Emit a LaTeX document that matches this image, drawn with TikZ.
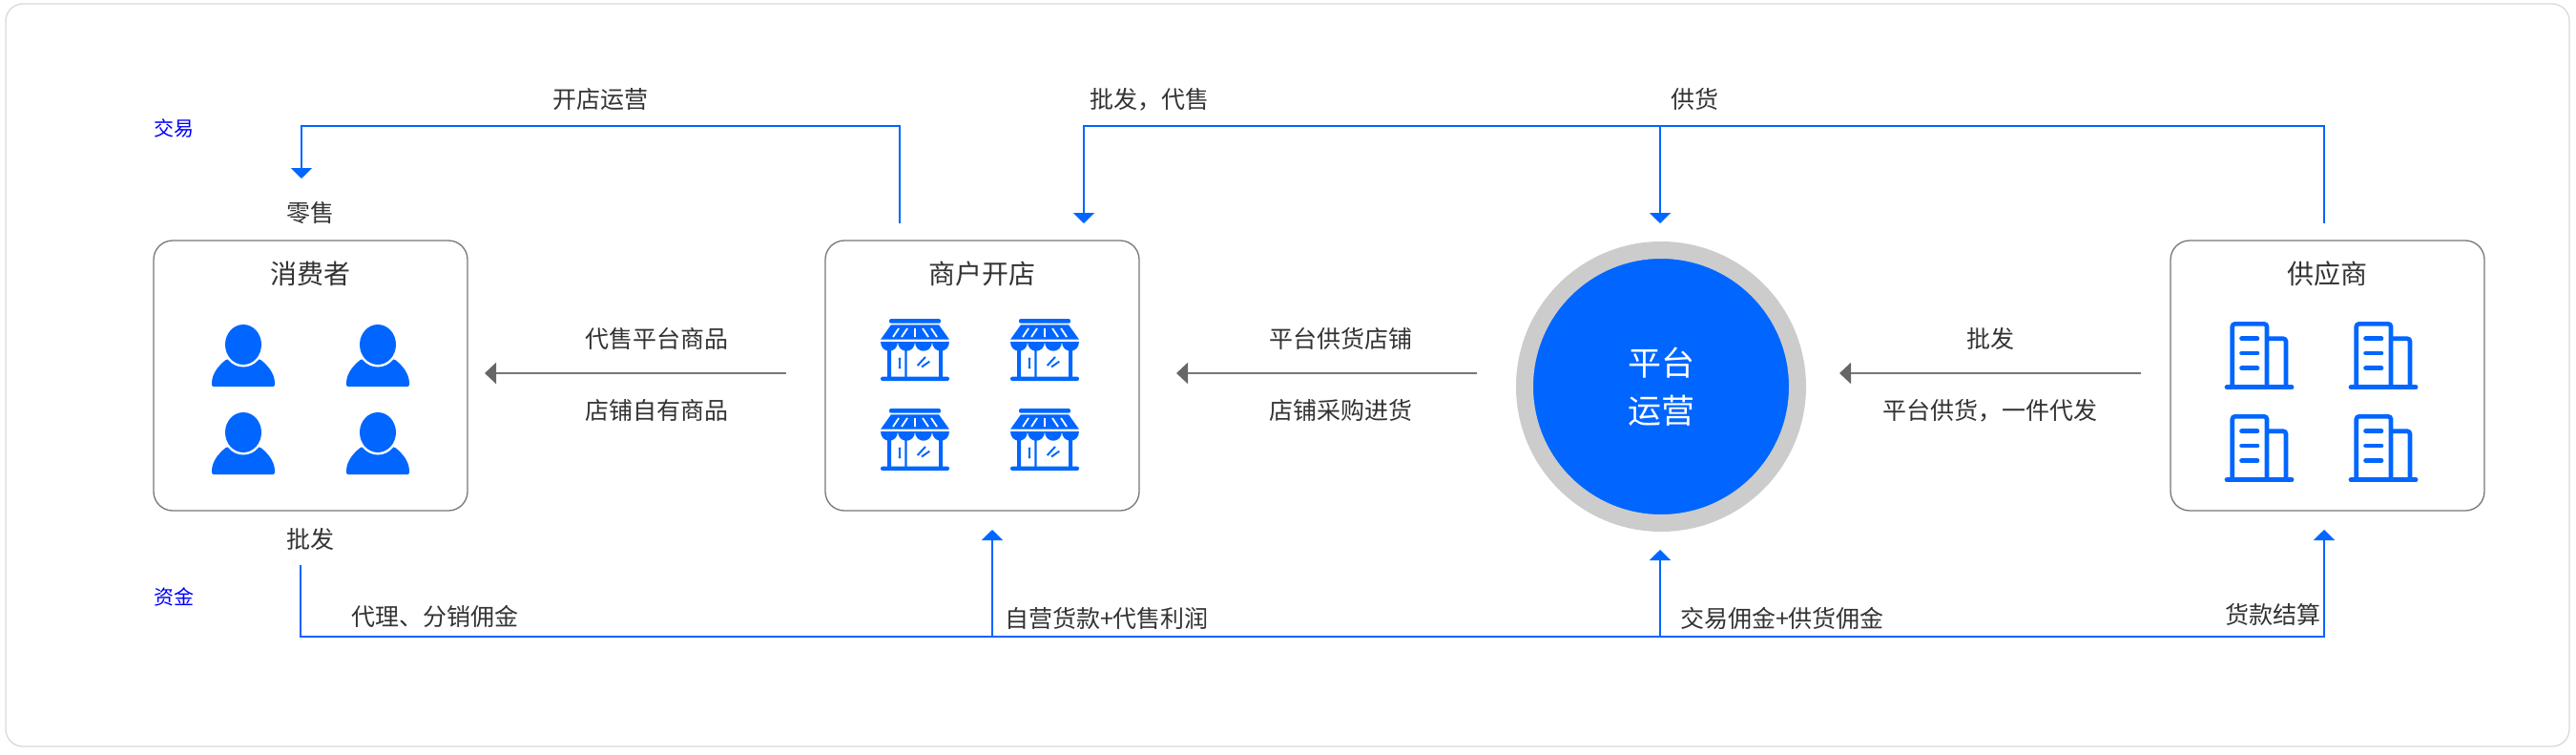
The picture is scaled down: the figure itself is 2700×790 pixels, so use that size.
\documentclass[tikz,border=0pt]{standalone}
\usepackage{fontspec}
\setmainfont{Noto Sans CJK SC}
\usetikzlibrary{positioning,arrows.meta}
\definecolor{flowblue}{HTML}{0066FF}
\definecolor{textgray}{HTML}{333333}
\definecolor{linegray}{HTML}{777777}
\definecolor{arrowgray}{HTML}{666666}

\begin{document}
\begin{tikzpicture}[
    x=1pt, y=-1pt,
    boxnode/.style={rectangle, draw=linegray, fill=white, line width=1.3pt, rounded corners=20pt, minimum width=329pt, minimum height=283pt, outer sep=0pt},
    platformnode/.style={circle, draw=black!20, fill=flowblue, line width=18pt, minimum size=286pt, outer sep=0pt, text=white, align=center, font=\fontsize{35}{50}\selectfont},
    titlenode/.style={text=textgray, inner sep=0pt, font=\fontsize{28}{34}\selectfont},
    textnode/.style={text=textgray, inner sep=0pt, font=\fontsize{25}{30}\selectfont},
    sidenode/.style={text=blue, inner sep=0pt, font=\fontsize{21}{26}\selectfont},
    flowline/.style={draw=flowblue, line width=2.2pt},
    flowarrow/.style={flowline, -{Triangle[length=11pt,width=22pt]}},
    grayarrow/.style={draw=linegray, line width=2pt, -{Triangle[length=12pt,width=22pt,color=arrowgray]}},
    personicon/.pic={
      \fill[flowblue, rounded corners=2pt] (-33,44) -- (-33,40) .. controls (-32,30) and (-26,22) .. (-17,15) -- (17,15) .. controls (26,22) and (32,30) .. (33,40) -- (33,44) -- cycle;
      \fill[white] (0,0) ellipse [x radius=21.5, y radius=23.5];
      \fill[flowblue] (0,0) ellipse [x radius=19, y radius=21];
    },
    shopicon/.pic={
      \fill[flowblue, rounded corners=2pt] (-27,0) rectangle (27,4.7);
      \fill[flowblue] (-25,6.3) -- (25,6.3) -- (36,21.7) -- (-36,21.7) -- cycle;
      \draw[white, line width=1.8pt] (-23,19) -- (-17,10) (-14,19) -- (-8,10) (0,19) -- (0,10) (8,10) -- (14,19) (17,10) -- (23,19);
      \foreach \s in {-36,-18,0,18}
        \fill[flowblue] (\s,24) .. controls (\s,37) and ({\s+18},37) .. ({\s+18},24) -- cycle;
      \fill[flowblue] (-29,28) rectangle (-25,62) (25,28) rectangle (29,62) (-10.7,32) rectangle (-8.3,62);
      \fill[flowblue, rounded corners=2pt] (-36,60.7) rectangle (36,65);
      \draw[flowblue, line width=1.5pt] (-16,42) -- (-16,51);
      \fill[flowblue] (-16,42) circle [radius=1.6] (-16,51) circle [radius=1.6];
      \draw[flowblue, line width=2pt] (2.7,49) -- (11,40) (7,50.5) -- (15.3,44.7);
    },
    towericon/.pic={
      \draw[flowblue, line width=4.6pt, rounded corners=3pt] (-28.3,68) -- (-28.3,2.3) -- (8,2.3) -- (8,68);
      \draw[flowblue, line width=4.6pt, rounded corners=3pt] (8,17.7) -- (28,17.7) -- (28,68);
      \draw[flowblue, line width=4.8pt, line cap=round] (-34,68.8) -- (34,68.8);
      \draw[flowblue, line width=4.6pt, line cap=round] (-18.5,17.7) -- (-2,17.7) (-18.5,33) -- (-2,33) (-18.5,48.7) -- (-2,48.7);
    }
   ]
   \useasboundingbox (0,0) rectangle (2700,790);
   \draw[black!15, line width=1.3pt, rounded corners=18pt] (6,4) rectangle (2693,782);

   \node[boxnode]      (consumer)    at (325.5,393.5)                  {};
   \node[boxnode]      (merchant)    [right=375pt of consumer]         {};
   \node[platformnode] (platform)    [right=404pt of merchant, yshift=-11.5pt] {平台\\运营};
   \node[boxnode]      (supplier)    [right=391pt of platform, yshift=11.5pt]  {};

   \node[titlenode] (consumertitle) [below=35pt of consumer.north, anchor=center] {消费者};
   \node[titlenode] (merchanttitle) [below=35pt of merchant.north, anchor=center] {商户开店};
   \node[titlenode] (suppliertitle) [below=35pt of supplier.north, anchor=center] {供应商};

   \foreach \ix in {255,396} \foreach \iy in {361,453} \pic at (\ix,\iy) {personicon};
   \foreach \ix in {959,1095} \foreach \iy in {334,428} \pic at (\ix,\iy) {shopicon};
   \foreach \ix in {2368,2498} \foreach \iy in {337,434} \pic at (\ix,\iy) {towericon};

   \node[sidenode] (tradeside) at (182,134.5) {交易};
   \node[sidenode] (fundside)  at (182,625)   {资金};

   \node[textnode] (openlabel)    at (629,104)  {开店运营};
   \node[textnode] (retaillabel)  at (325,223)  {零售};
   \node[textnode] (salelabel)    at (1205,104) {批发，代售};
   \node[textnode] (supplylabel)  at (1776,104) {供货};
   \node[textnode] (agentlabel)   at (688,355)  {代售平台商品};
   \node[textnode] (ownlabel)     at (688,430)  {店铺自有商品};
   \node[textnode] (shoplabel)    at (1405,355) {平台供货店铺};
   \node[textnode] (buylabel)     at (1405,430) {店铺采购进货};
   \node[textnode] (bulklabel)    at (2086,355) {批发};
   \node[textnode] (droplabel)    at (2086,430) {平台供货，一件代发};
   \node[textnode] (bulkbottom)   at (325,565)  {批发};
   \node[textnode] (commlabel)    at (456,646)  {代理、分销佣金};
   \node[textnode] (profitlabel)  at (1160,648) {自营货款+代售利润};
   \node[textnode] (feelabel)     at (1868,648) {交易佣金+供货佣金};
   \node[textnode] (paylabel)     at (2382,644) {货款结算};

   \coordinate (openstart)  at (943,234);
   \coordinate (openturn)   at (943,132);
   \coordinate (retailtip)  at (316,187);
   \coordinate (supplystart) at (2436,234);
   \coordinate (supplyturn) at (2436,132);
   \coordinate (saletip)    at (1136,234);
   \coordinate (platformtop) at (1740,132);
   \coordinate (platformtip) at (1740,234);
   \coordinate (fundstart)  at (315,592);
   \coordinate (fundturn)   at (315,667);
   \coordinate (fundend)    at (2436,667);
   \coordinate (suppliertip) at (2436,555);
   \coordinate (merchantfoot) at (1040,667);
   \coordinate (merchanttip) at (1040,555);
   \coordinate (platformfoot) at (1740,667);
   \coordinate (platformup) at (1740,576);

   \draw[flowarrow] (openstart) -- (openturn) -| (retailtip);
   \draw[flowarrow] (supplystart) -- (supplyturn) -| (saletip);
   \draw[flowarrow] (platformtop) -- (platformtip);
   \draw[flowarrow] (fundstart) -- (fundturn) -- (fundend) -- (suppliertip);
   \draw[flowarrow] (merchantfoot) -- (merchanttip);
   \draw[flowarrow] (platformfoot) -- (platformup);

   \draw[grayarrow] (824,391) -- (508,391);
   \draw[grayarrow] (1548,391) -- (1233,391);
   \draw[grayarrow] (2244,391) -- (1928,391);
 \end{tikzpicture}
\end{document}
